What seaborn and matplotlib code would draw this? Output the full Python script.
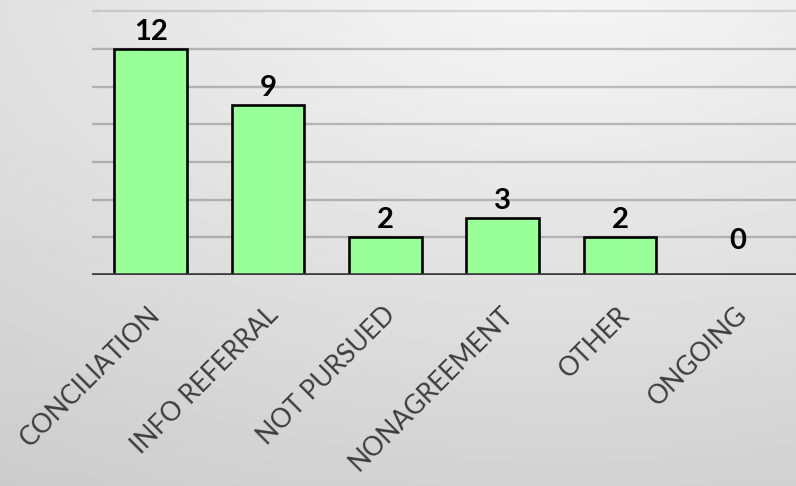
import numpy as np
import matplotlib
matplotlib.use("Agg")
import matplotlib.pyplot as plt
import matplotlib.transforms as mtransforms
import seaborn as sns

categories = ["CONCILIATION", "INFO REFERRAL", "NOT PURSUED", "NONAGREEMENT", "OTHER", "ONGOING"]
values = [12, 9, 2, 3, 2, 0]
grid_ticks = [0, 2, 4, 6, 8, 10, 12, 14]

sns.set_theme(style="white")
plt.rcParams["font.family"] = ["Lato", "DejaVu Sans"]

W, H = 796, 486
fig = plt.figure(figsize=(W / 100, H / 100), dpi=100)

# soft elliptical grey backdrop, brightest just above the top edge
bg = fig.add_axes([0, 0, 1, 1], zorder=0)
yy, xx = np.mgrid[0:H, 0:W]
drop = np.sqrt((0.0393 * (xx - 560)) ** 2 + (0.0661 * (yy + 40)) ** 2)
shade = np.clip(248 - drop * 1.08, 0, 255) / 255
bg.imshow(shade, cmap="gray", vmin=0, vmax=1, aspect="auto",
          extent=[0, 1, 0, 1], interpolation="bilinear")
bg.set_axis_off()

ax = fig.add_axes([92 / W, (H - 275) / H, 1 - 92 / W, 275 / H], zorder=1)
ax.patch.set_alpha(0)

sns.barplot(x=categories, y=values, color="#99FF99", saturation=1, edgecolor="black",
            linewidth=1.9, width=0.62, ax=ax, zorder=3)

ax.set_ylim(0, 14.6)
ax.set_xlim(-0.5, len(categories) - 0.5)
for g in grid_ticks[1:]:
    ax.axhline(g, color="black", alpha=0.22 if g < 14 else 0.12, lw=1.7, zorder=1)
ax.axhline(0, color="#3a3a3a", lw=2.6, zorder=4)

for s in ax.spines.values():
    s.set_visible(False)
ax.set_yticks([])
ax.set_xlabel("")
ax.set_ylabel("")
ax.tick_params(axis="x", length=0, pad=26)
ax.set_xticks(range(len(categories)))
ax.set_xticklabels(categories, rotation=45, ha="right", va="center",
                   rotation_mode="anchor", fontsize=19, color="#3d3d3d")
offset = mtransforms.ScaledTranslation(6 / 100, 0, fig.dpi_scale_trans)
for lbl in ax.get_xticklabels():
    lbl.set_transform(lbl.get_transform() + offset)

for i, v in enumerate(values):
    lift = 12.5 if v > 0 else 24.5
    ax.annotate(str(v), (i, v), xytext=(0, lift), textcoords="offset points",
                ha="center", va="center", fontsize=21, fontweight="bold",
                color="black", zorder=5)

fig.savefig("out.png", dpi=100)
